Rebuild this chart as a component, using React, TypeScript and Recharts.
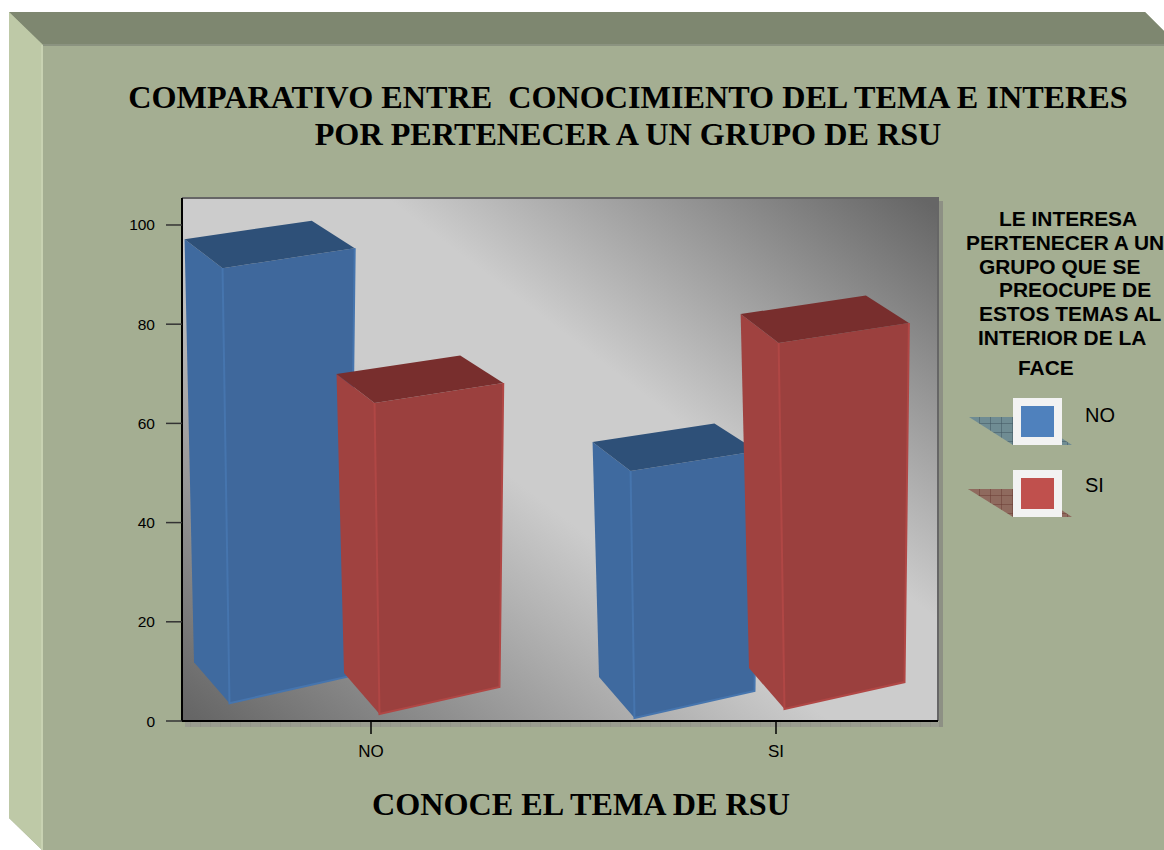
import React from "react";
import { BarChart, Bar, XAxis, YAxis } from "recharts";

const categories = ["NO", "SI"];
const noLow = [3.6, 0.6];
const noHigh = [91.3, 50.4];
const siLow = [1.4, 2.4];
const siHigh = [64.1, 76.2];
const yTicks = [0, 20, 40, 60, 80, 100];
const titleLines = ["COMPARATIVO ENTRE  CONOCIMIENTO DEL TEMA E INTERES", "POR PERTENECER A UN GRUPO DE RSU"];
const axisTitle = "CONOCE EL TEMA DE RSU";
const legendTitle = ["LE INTERESA", "PERTENECER A UN", "GRUPO QUE SE", "PREOCUPE DE", "ESTOS TEMAS AL", "INTERIOR DE LA", "FACE"];
const legendTitleX = [999, 966, 979, 999, 979, 978, 1018];
const legendTitleY = [226, 250, 274, 297, 321, 345, 375];

const data = categories.map((c, i) => ({
  name: c,
  no: [noLow[i], noHigh[i]],
  si: [siLow[i], siHigh[i]],
}));

const poly = (p: number[][]) => p.map((q) => q.join(",")).join(" ");

function Box3D(props: any) {
  const { x, y, width, height, front, side, top, edge, shift } = props;
  const bx = x + shift; // front-bottom-left
  const by = y + height;
  const lean = height * 0.016;
  const tl = [bx - lean, y];
  const tr = [bx - lean + width + height * 0.028, y - 20];
  const bl = [bx, by];
  const br = [bx + width, by - 27];
  const tbl = [tl[0] - 38, y - 29];
  const tbr = [tr[0] - 43, y - 47.5];
  const bbl = [bl[0] - 35.5, by - 41];
  return (
    <g>
      <polygon points={poly([tbl, tl, bl, bbl])} fill={side} />
      <polygon points={poly([tl, tr, br, bl])} fill={front} />
      <polygon points={poly([tbl, tbr, tr, tl])} fill={top} />
      <polyline points={poly([tl, bl, br, tr])} fill="none" stroke={edge} strokeWidth={2} />
    </g>
  );
}

const FACE = "#a4ae92";

function Backdrop() {
  return (
    <svg width={1164} height={850} style={{ position: "absolute", left: 0, top: 0 }}>
      <defs>
        <linearGradient id="plotGrad" gradientUnits="userSpaceOnUse" x1={300} y1={800} x2={820} y2={120}>
          <stop offset="0" stopColor="#666666" />
          <stop offset="0.45" stopColor="#cccccc" />
          <stop offset="0.62" stopColor="#cccccc" />
          <stop offset="1" stopColor="#666666" />
        </linearGradient>
        <pattern id="hatch" width={10} height={5} patternUnits="userSpaceOnUse">
          <rect width={10} height={5} fill="#9a9d90" />
          <line x1={0} y1={0} x2={0} y2={5} stroke="#8c8f83" />
        </pattern>
        <pattern id="gridB" width={11} height={9} patternUnits="userSpaceOnUse">
          <rect width={11} height={9} fill="#6f8c93" />
          <path d="M0 0H11M0 0V9" stroke="#3e5560" />
        </pattern>
        <pattern id="gridR" width={11} height={9} patternUnits="userSpaceOnUse">
          <rect width={11} height={9} fill="#8f6a5e" />
          <path d="M0 0H11M0 0V9" stroke="#6a3a32" />
        </pattern>
      </defs>
      <polygon points="9,12 1145,12 1164,31 1164,850 42,850 9,818" fill={FACE} />
      <polygon points="9,12 1145,12 1164,31 1164,45 43,45" fill="#7e8770" />
      <polygon points="9,12 43,45 43,850 42,850 9,818" fill="#bec9a7" />
      <rect x={43} y={44} width={1121} height={2} fill="#8b9380" />
      <rect x={41} y={45} width={2} height={805} fill="#c8d2b2" />
      <rect x={185} y={722} width={757} height={5} fill="url(#hatch)" />
      <rect x={939} y={201} width={4} height={526} fill="#8d9084" />
      <rect x={182} y={198} width={756} height={523} fill="url(#plotGrad)" />
      <path d="M182 198H938V721" fill="none" stroke="#666" strokeWidth={2} />
      <polygon points="969,417 1030,417 1072,445 1013,445" fill="url(#gridB)" />
      <polygon points="968,489 1030,489 1072,517 1013,517" fill="url(#gridR)" />
    </svg>
  );
}

function Overlay() {
  return (
    <svg width={1164} height={850} style={{ position: "absolute", left: 0, top: 0, pointerEvents: "none" }}>
      <g fontFamily="'Liberation Serif'" fontWeight="bold" fontSize={32.2} fill="#000" textAnchor="middle">
        <text x={628} y={108} xmlSpace="preserve">{titleLines[0]}</text>
        <text x={628} y={145}>{titleLines[1]}</text>
        <text x={581} y={815}>{axisTitle}</text>
      </g>
      <g fontFamily="'Liberation Sans'" fontWeight="bold" fontSize={21} fill="#000">
        {legendTitle.map((t, i) => (
          <text key={t} x={legendTitleX[i]} y={legendTitleY[i]} style={{ fontSize: 20.9 }}>{t}</text>
        ))}
      </g>
      <rect x={1013} y={398} width={49} height={47} fill="#f2f2f2" />
      <rect x={1021} y={406} width={33} height={31} fill="#4f81bd" />
      <rect x={1013} y={470} width={49} height={47} fill="#f2f2f2" />
      <rect x={1021} y={478} width={33} height={31} fill="#c0504d" />
      <g fontFamily="'Liberation Sans'" fontSize={20} fill="#000">
        <text x={1085} y={422}>{categories[0]}</text>
        <text x={1085} y={492}>{categories[1]}</text>
      </g>
    </svg>
  );
}

export default function App() {
  return (
    <div style={{ position: "fixed", left: 0, top: 0, width: 1164, height: 850, background: "#fff", overflow: "hidden" }}>
      <Backdrop />
      <div style={{ position: "absolute", left: 0, top: 0 }}>
        <BarChart
          width={1164}
          height={850}
          data={data}
          barSize={120}
          barGap={28}
          margin={{ top: 198, right: 226, bottom: 79, left: 122 }}
        >
          <XAxis
            dataKey="name"
            height={50}
            padding={{ left: -13.5, right: -40.5 }}
            tickSize={13}
            tickMargin={11}
            axisLine={{ stroke: "#000", strokeWidth: 2 }}
            tickLine={{ stroke: "#000", strokeWidth: 1.5 }}
            tick={{ fill: "#000", fontSize: 17, fontFamily: "'Liberation Sans'" }}
          />
          <YAxis
            width={60}
            domain={[0, 105.44]}
            ticks={yTicks}
            allowDataOverflow
            tickSize={16}
            tickMargin={11}
            axisLine={{ stroke: "#000", strokeWidth: 2 }}
            tickLine={{ stroke: "#333", strokeWidth: 1.5 }}
            tick={{ fill: "#000", fontSize: 15.5, fontFamily: "'Liberation Sans'" }}
          />
          <Bar
            dataKey="no"
            isAnimationActive={false}
            fill="#3f689c"
            shape={(p: any) => <Box3D {...p} shift={-8} front="#3f689c" side="#3f6a9f" top="#2e5078" edge="#4675ae" />}
          />
          <Bar
            dataKey="si"
            isAnimationActive={false}
            fill="#9c403e"
            shape={(p: any) => <Box3D {...p} shift={-6} front="#9b403e" side="#a04240" top="#782e2d" edge="#b04745" />}
          />
        </BarChart>
      </div>
      <Overlay />
    </div>
  );
}
